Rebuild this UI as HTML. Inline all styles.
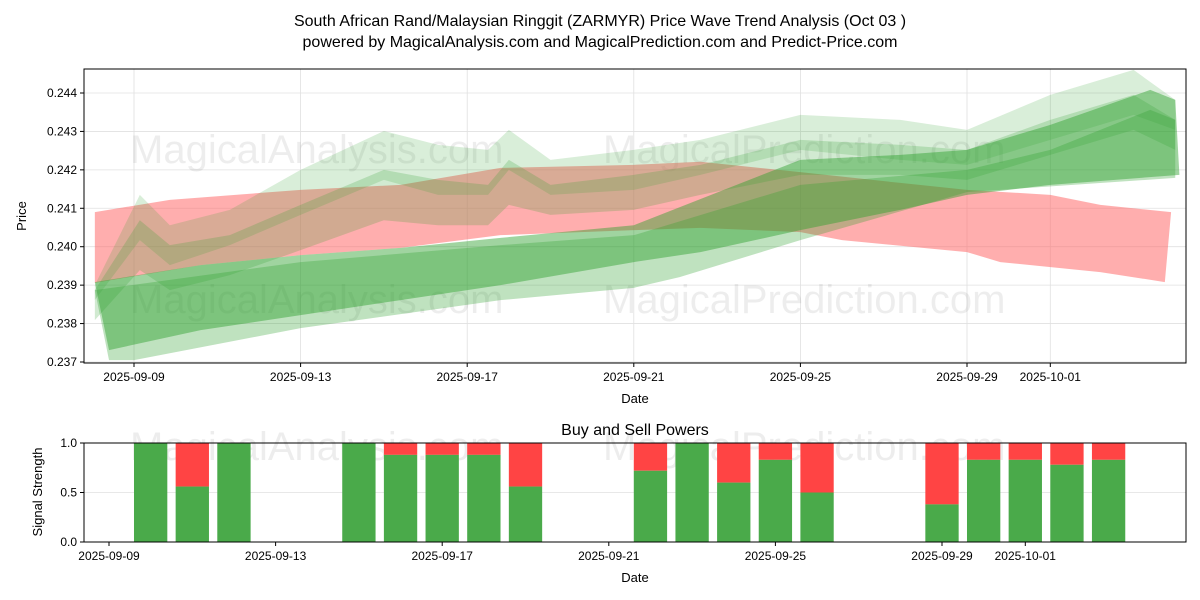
<!DOCTYPE html>
<html><head><meta charset="utf-8">
<style>
body{margin:0;background:#fff;}
svg{display:block;font-family:"Liberation Sans","DejaVu Sans",sans-serif;}
</style></head>
<body>
<svg id="chart" width="1200" height="600" viewBox="0 0 1200 600" xmlns="http://www.w3.org/2000/svg">
<rect width="1200" height="600" fill="#fff"/>
<text x="600" y="26" text-anchor="middle" font-size="16">South African Rand/Malaysian Ringgit (ZARMYR) Price Wave Trend Analysis (Oct 03 )</text>
<text x="600" y="47" text-anchor="middle" font-size="16">powered by MagicalAnalysis.com and MagicalPrediction.com and Predict-Price.com</text>
<g id="topPanel"></g>
<g id="botPanel"></g>
</svg>
<script>
// ---- data ----
const tickDates = ["2025-09-09","2025-09-13","2025-09-17","2025-09-21","2025-09-25","2025-09-29","2025-10-01"];
const tickDays = [0,4,8,12,16,20,22];
const priceTicks = [0.237,0.238,0.239,0.240,0.241,0.242,0.243,0.244];
const redDaysU = [-0.94,0.86,4,6.4,8.8,12,13.6,16,18.4,20,22,23.2,24.9];
const redUpper = [0.24090,0.24122,0.24148,0.24161,0.24205,0.24213,0.24221,0.24194,0.24166,0.24148,0.24135,0.24109,0.24090];
const redDaysL = [-0.94,1.6,4,6.4,8.8,12,13.6,16,17,20,20.8,23.2,24.75];
const redLower = [0.23906,0.23952,0.23978,0.23997,0.24030,0.24043,0.24049,0.24038,0.24017,0.23986,0.23960,0.23934,0.23908];
const mDaysU = [-0.94,1.6,4,6.4,8.8,12,16,18.4,20,22,24.4,25];
const mUpper = [0.23908,0.23952,0.23978,0.23997,0.24023,0.24056,0.24226,0.24239,0.24252,0.24317,0.24408,0.24382];
const mDaysL = [-0.6,1.6,4,6.4,8.8,12,13.6,16,18.4,20,22,25.1];
const mLower = [0.23731,0.23783,0.23822,0.23861,0.23900,0.23960,0.23986,0.24043,0.24096,0.24135,0.24161,0.24187];
const g2DaysU = [-0.94,4,8.8,12,16,20,22,24.4,25];
const g2Upper = [0.23887,0.23960,0.24004,0.24030,0.24161,0.24200,0.24252,0.24356,0.24330];
const g2DaysL = [-0.6,0,4,8.8,12,13.1,16,20,25];
const g2Lower = [0.23705,0.23705,0.23788,0.23861,0.23893,0.23921,0.24017,0.24142,0.24179];
const wDays = [-0.94,0.14,0.86,2.3,4,6,7.3,8.5,9,10,12,13.6,16,18.4,20,22,24,25];
const g3Upper = [0.23900,0.24135,0.24056,0.24096,0.24200,0.24301,0.24265,0.24252,0.24304,0.24226,0.24252,0.24278,0.24343,0.24330,0.24304,0.24395,0.24460,0.24382];
const g3Lower = [0.23861,0.24017,0.23952,0.24004,0.24083,0.24174,0.24135,0.24135,0.24200,0.24135,0.24148,0.24187,0.24252,0.24226,0.24213,0.24278,0.24343,0.24304];
const g4Upper = [0.23887,0.24069,0.24004,0.24030,0.24109,0.24200,0.24174,0.24161,0.24226,0.24161,0.24187,0.24213,0.24278,0.24265,0.24252,0.24330,0.24395,0.24330];
const g4Lower = [0.23809,0.23939,0.23887,0.23926,0.23991,0.24069,0.24056,0.24056,0.24109,0.24083,0.24096,0.24135,0.24187,0.24187,0.24174,0.24239,0.24304,0.24252];
const barDays = [1,2,3,6,7,8,9,10,13,14,15,16,17,20,21,22,23,24];
const buyVals = [1.0,0.56,1.0,1.0,0.88,0.88,0.88,0.56,0.72,1.0,0.6,0.83,0.5,0.38,0.83,0.83,0.78,0.83];
const sigTicks = [0,0.5,1.0];

const NS="http://www.w3.org/2000/svg";
function mk(parent,tag,attrs,text){const e=document.createElementNS(NS,tag);for(const k in attrs)e.setAttribute(k,attrs[k]);if(text!==undefined)e.textContent=text;parent.appendChild(e);return e;}
const L=84,R=1186,T=69,B=363;
const xT=d=>134+d*41.65;
const yT=v=>362-(v-0.237)/0.001*38.43;
const topG=document.getElementById('topPanel');
for(const v of priceTicks){
  const g=mk(topG,'line',{x1:L,x2:R,y1:yT(v),y2:yT(v),stroke:'#e0e0e0','stroke-width':0.8});
  
  
  mk(topG,'line',{x1:L-4,x2:L,y1:yT(v),y2:yT(v),stroke:'#000'});
  const t=mk(topG,'text',{x:L-7,y:yT(v)+4,'text-anchor':'end','font-size':12},v.toFixed(3));
  
  
}
tickDays.forEach((d,i)=>{
  const g=mk(topG,'line',{x1:xT(d),x2:xT(d),y1:T,y2:B,stroke:'#e0e0e0','stroke-width':0.8});
  
  
  mk(topG,'line',{x1:xT(d),x2:xT(d),y1:B,y2:B+4,stroke:'#000'});
  const t=mk(topG,'text',{x:xT(d),y:B+18,'text-anchor':'middle','font-size':12},tickDates[i]);
  
  
});
[[130,163,'MagicalAnalysis.com'],[603,163,'MagicalPrediction.com'],[130,313,'MagicalAnalysis.com'],[603,313,'MagicalPrediction.com']].forEach(w=>{
  const t=mk(topG,'text',{x:w[0],y:w[1],'font-size':40,fill:'rgba(0,0,0,0.07)'},w[2]);
  
  
});
function band(daysU,up,daysL,lo,fill,op,name){
  const pts=[];
  daysU.forEach((d,i)=>pts.push(xT(d)+','+yT(up[i])));
  for(let i=daysL.length-1;i>=0;i--)pts.push(xT(daysL[i])+','+yT(lo[i]));
  const p=mk(topG,'polygon',{points:pts.join(' '),fill:fill,'fill-opacity':op});
  
  
}
band(redDaysU,redUpper,redDaysL,redLower,'#ff6b6b',0.55,'red-wave-band');
band(wDays,g3Upper,wDays,g3Lower,'#2ca02c',0.18,'green-wave-band-upper');
band(wDays,g4Upper,wDays,g4Lower,'#2ca02c',0.22,'green-wave-band-mid');
band(g2DaysU,g2Upper,g2DaysL,g2Lower,'#2ca02c',0.3,'green-wave-band-lower');
band(mDaysU,mUpper,mDaysL,mLower,'#2ca02c',0.45,'green-wave-band-main');
const fr=mk(topG,'rect',{x:L,y:T,width:R-L,height:B-T,fill:'none',stroke:'#000','stroke-width':1});


let tx=mk(topG,'text',{x:635,y:403,'text-anchor':'middle','font-size':13},'Date');


tx=mk(topG,'text',{x:26,y:216,'text-anchor':'middle','font-size':13,transform:'rotate(-90 26 216)'},'Price');



const botG=document.getElementById('botPanel');
const BT=443,BB=542;
const xB=d=>109+d*41.65;
const yB=v=>BB-v*(BB-BT);
for(const v of sigTicks){
  const g=mk(botG,'line',{x1:L,x2:R,y1:yB(v),y2:yB(v),stroke:'#e0e0e0','stroke-width':0.8});
  
  
  mk(botG,'line',{x1:L-4,x2:L,y1:yB(v),y2:yB(v),stroke:'#000'});
  const tt=mk(botG,'text',{x:L-7,y:yB(v)+4,'text-anchor':'end','font-size':12},v.toFixed(1));
  
  
}
[[130,460,'MagicalAnalysis.com'],[603,460,'MagicalPrediction.com']].forEach(w=>{
  const tt=mk(botG,'text',{x:w[0],y:w[1],'font-size':40,fill:'rgba(0,0,0,0.07)'},w[2]);
  
  
});
const bw=0.8*41.65;
barDays.forEach((d,i)=>{
  const cx=xB(d);
  const s=mk(botG,'rect',{x:cx-bw/2,y:yB(1),width:bw,height:yB(buyVals[i])-yB(1),fill:'#ff4444'});
  
  
  const b=mk(botG,'rect',{x:cx-bw/2,y:yB(buyVals[i]),width:bw,height:BB-yB(buyVals[i]),fill:'#4aaa4a'});
  
  
});
tickDays.forEach((d,i)=>{
  mk(botG,'line',{x1:xB(d),x2:xB(d),y1:BB,y2:BB+4,stroke:'#000'});
  const tt=mk(botG,'text',{x:xB(d),y:BB+18,'text-anchor':'middle','font-size':12},tickDates[i]);
  
  
});
const fr2=mk(botG,'rect',{x:L,y:BT,width:R-L,height:BB-BT,fill:'none',stroke:'#000','stroke-width':1});


tx=mk(botG,'text',{x:635,y:435,'text-anchor':'middle','font-size':16},'Buy and Sell Powers');


tx=mk(botG,'text',{x:635,y:582,'text-anchor':'middle','font-size':13},'Date');


tx=mk(botG,'text',{x:42,y:492,'text-anchor':'middle','font-size':13,transform:'rotate(-90 42 492)'},'Signal Strength');


</script>
</body></html>
